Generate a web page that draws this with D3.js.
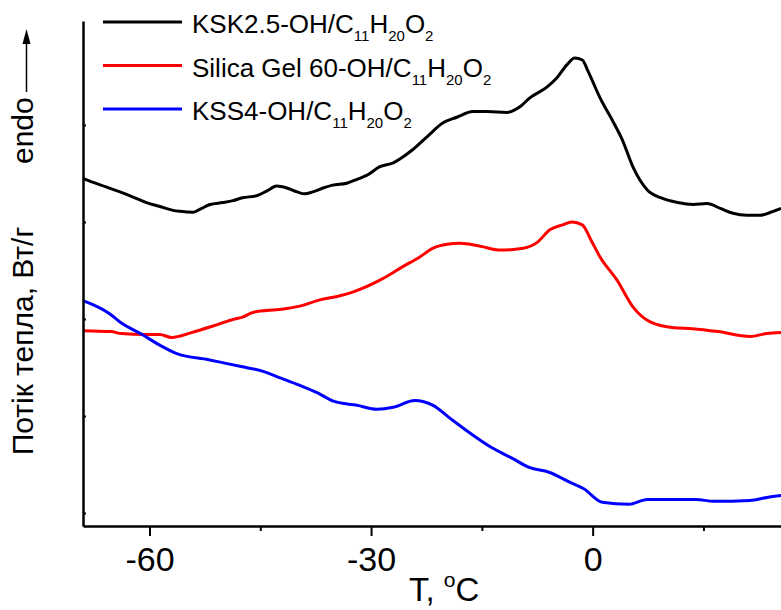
<!DOCTYPE html>
<html>
<head>
<meta charset="utf-8">
<script src="https://cdn.jsdelivr.net/npm/d3@7"></script>
<style>
  body { margin: 0; background: #fff; }
  svg { display: block; font-family: "Liberation Sans", Arial, sans-serif; }
</style>
</head>
<body>
<svg id="chart" width="781" height="610"></svg>
<script>
// DSC-криві, значення (T, °C; потік тепла, умовні одиниці)
const blackT = [-69.0, -67.7, -65.8, -64.0, -62.3, -60.4, -58.6, -56.8, -55.9, -54.1, -53.2, -51.8, -50.1, -48.7, -47.4, -45.5, -44.1, -42.8, -41.4, -40.0, -39.0, -37.9, -36.5, -35.2, -33.3, -31.9, -30.6, -28.8, -27.0, -25.7, -24.3, -22.4, -20.3, -18.4, -16.2, -14.3, -11.6, -9.8, -8.5, -6.2, -4.8, -3.5, -2.4, -1.4, -0.6, 1.0, 2.8, 4.0, 5.5, 7.4, 9.2, 11.5, 13.6, 15.5, 17.3, 19.0, 20.9, 22.7, 24.1, 25.5];
const blackQ = [4.45, 4.41, 4.36, 4.31, 4.26, 4.20, 4.16, 4.12, 4.11, 4.10, 4.13, 4.18, 4.20, 4.22, 4.25, 4.27, 4.32, 4.37, 4.35, 4.31, 4.29, 4.31, 4.35, 4.38, 4.40, 4.44, 4.48, 4.57, 4.61, 4.67, 4.75, 4.88, 5.02, 5.08, 5.14, 5.14, 5.13, 5.19, 5.28, 5.39, 5.49, 5.62, 5.69, 5.67, 5.55, 5.28, 5.03, 4.85, 4.56, 4.33, 4.25, 4.20, 4.18, 4.19, 4.14, 4.09, 4.07, 4.07, 4.10, 4.14];

const redT = [-69.0, -65.2, -63.8, -60.6, -58.6, -57.0, -54.3, -51.3, -48.9, -47.4, -45.9, -42.2, -39.8, -36.8, -34.2, -32.4, -28.8, -25.7, -23.4, -21.6, -19.7, -18.0, -15.2, -12.5, -9.4, -7.5, -5.8, -4.1, -2.8, -1.4, -0.2, 1.0, 3.3, 5.5, 7.8, 11.0, 13.5, 17.0, 21.3, 23.6, 25.5];
const redQ = [2.88, 2.87, 2.85, 2.84, 2.84, 2.81, 2.86, 2.93, 2.99, 3.02, 3.07, 3.10, 3.13, 3.20, 3.24, 3.28, 3.40, 3.54, 3.64, 3.73, 3.77, 3.78, 3.75, 3.71, 3.73, 3.79, 3.92, 3.97, 4.00, 3.97, 3.81, 3.64, 3.40, 3.12, 2.97, 2.91, 2.90, 2.87, 2.82, 2.85, 2.86];

const blueT = [-69.0, -65.5, -64.0, -61.0, -58.6, -56.2, -52.0, -50.1, -47.6, -44.6, -42.2, -39.8, -37.3, -35.0, -31.9, -29.2, -27.0, -24.1, -21.6, -19.2, -16.9, -13.8, -10.8, -8.6, -5.9, -2.9, -1.2, 1.3, 4.9, 7.4, 10.4, 14.0, 16.4, 21.3, 23.6, 25.5];
const blueQ = [3.19, 3.06, 2.97, 2.84, 2.73, 2.64, 2.58, 2.55, 2.51, 2.46, 2.39, 2.32, 2.24, 2.15, 2.11, 2.07, 2.09, 2.16, 2.11, 1.97, 1.84, 1.68, 1.56, 1.47, 1.42, 1.31, 1.25, 1.11, 1.09, 1.14, 1.14, 1.14, 1.12, 1.13, 1.16, 1.18];

const seriesNames = ['KSK2.5-OH/C', 'Silica Gel 60-OH/C', 'KSS4-OH/C'];
const seriesColors = ['#000000', '#ff0000', '#0000ff'];

const xMajorTicks = [-60, -30, 0];
const xMinorTicks = [-45, -15, 15];
const yTicks = [1, 2, 3, 4, 5];

const svg = d3.select('#chart');

const xScale = d3.scaleLinear().domain([-69, 25.5]).range([83, 781]);
const yScale = d3.scaleLinear().domain([0.866, 6.072]).range([526, 21]);

// криві
const line = d3.line()
    .x(d => xScale(d[0]))
    .y(d => yScale(d[1]))
    .curve(d3.curveMonotoneX);

const curves = [
    d3.zip(blackT, blackQ),
    d3.zip(redT, redQ),
    d3.zip(blueT, blueQ)
];

curves.forEach((pts, i) => {
    svg.append('path')
        .datum(pts)
        .attr('fill', 'none')
        .attr('stroke', seriesColors[i])
        .attr('stroke-width', 3)
        .attr('stroke-linejoin', 'round')
        .attr('d', line);
});

// вісь X
const xAxis = svg.append('g')
    .attr('transform', 'translate(0, 526)')
    .call(d3.axisBottom(xScale).tickValues(xMajorTicks).tickSize(10).tickSizeOuter(0).tickFormat(d3.format('d')));
xAxis.select('.domain').attr('stroke-width', 2.5);
xAxis.selectAll('.tick line').attr('stroke-width', 2);
xAxis.selectAll('.tick text')
    .attr('dy', null)
    .attr('y', 45)
    .style('font-size', '34px')
    .style('font-family', '"Liberation Sans", Arial, sans-serif')
    .text(d => d < 0 ? '-' + Math.abs(d) : d);

svg.append('g')
    .attr('transform', 'translate(0, 526)')
    .call(d3.axisBottom(xScale).tickValues(xMinorTicks).tickSize(5).tickSizeOuter(0).tickFormat(''))
    .call(g => g.select('.domain').remove())
    .selectAll('.tick line').attr('stroke-width', 2);

// вісь Y (без підписів)
const yAxis = svg.append('g')
    .attr('transform', 'translate(83, 0)')
    .call(d3.axisLeft(yScale).tickValues(yTicks).tickSize(-3).tickSizeOuter(0).tickFormat(''));
yAxis.select('.domain').attr('stroke-width', 2.5);
yAxis.selectAll('.tick line').attr('stroke-width', 2);

// назва осі X
const xTitle = svg.append('text')
    .attr('x', 409)
    .attr('y', 601)
    .style('font-size', '33px');
xTitle.append('tspan').text('T, ');
xTitle.append('tspan').attr('dy', -14).style('font-size', '21px').text('o');
xTitle.append('tspan').attr('dy', 14).text('C');

// назва осі Y
svg.append('text')
    .attr('transform', 'translate(33, 341) rotate(-90)')
    .attr('text-anchor', 'middle')
    .style('font-size', '30px')
    .text('Потік тепла, Вт/г');

svg.append('text')
    .attr('transform', 'translate(33, 164) rotate(-90)')
    .style('font-size', '30px')
    .text('endo');

svg.append('line')
    .attr('x1', 26.5).attr('x2', 26.5)
    .attr('y1', 92).attr('y2', 40)
    .attr('stroke', '#000')
    .attr('stroke-width', 1.5);
svg.append('path')
    .attr('d', 'M26.5,29 L30.5,44 L22.5,44 Z')
    .attr('fill', '#000');

// легенда
const legend = svg.append('g');
seriesNames.forEach((name, i) => {
    const y = 22 + i * 43.5;
    legend.append('line')
        .attr('x1', 103).attr('x2', 182)
        .attr('y1', y).attr('y2', y)
        .attr('stroke', seriesColors[i])
        .attr('stroke-width', 3);
    const t = legend.append('text')
        .attr('x', 192)
        .attr('y', y + 11)
        .style('font-size', '26px');
    t.append('tspan').text(name);
    t.append('tspan').attr('dy', 8).style('font-size', '15px').text('11');
    t.append('tspan').attr('dy', -8).text('H');
    t.append('tspan').attr('dy', 8).style('font-size', '15px').text('20');
    t.append('tspan').attr('dy', -8).text('O');
    t.append('tspan').attr('dy', 8).style('font-size', '15px').text('2');
});
</script>
</body>
</html>
